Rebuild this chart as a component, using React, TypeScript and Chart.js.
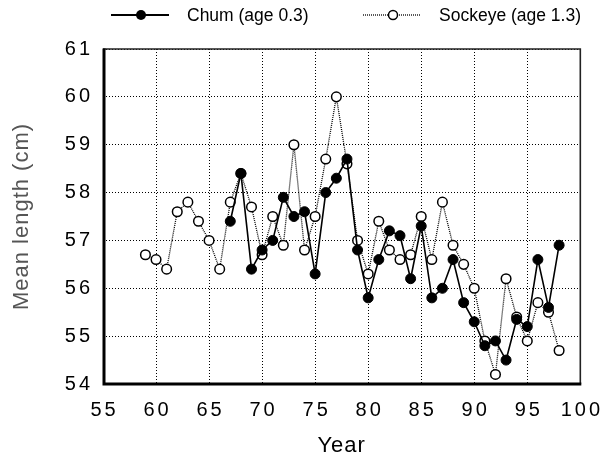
import React, { useEffect, useRef } from "react";
import { Chart, registerables } from "chart.js";

Chart.register(...registerables);

// ---- data ----
const sockeyeYears = [59, 60, 61, 62, 63, 64, 65, 66, 67, 68, 69, 70, 71, 72, 73, 74, 75, 76, 77, 78, 79, 80, 81, 82, 83, 84, 85, 86, 87, 88, 89, 90, 91, 92, 93, 94, 95, 96, 97, 98];
const sockeyeLength = [56.7, 56.6, 56.4, 57.6, 57.8, 57.4, 57.0, 56.4, 57.8, 58.4, 57.7, 56.7, 57.5, 56.9, 59.0, 56.8, 57.5, 58.7, 60.0, 58.6, 57.0, 56.3, 57.4, 56.8, 56.6, 56.7, 57.5, 56.6, 57.8, 56.9, 56.5, 56.0, 54.9, 54.2, 56.2, 55.4, 54.9, 55.7, 55.5, 54.7];

const chumYears = [67, 68, 69, 70, 71, 72, 73, 74, 75, 76, 77, 78, 79, 80, 81, 82, 83, 84, 85, 86, 87, 88, 89, 90, 91, 92, 93, 94, 95, 96, 97, 98];
const chumLength = [57.4, 58.4, 56.4, 56.8, 57.0, 57.9, 57.5, 57.6, 56.3, 58.0, 58.3, 58.7, 56.8, 55.8, 56.6, 57.2, 57.1, 56.2, 57.3, 55.8, 56.0, 56.6, 55.7, 55.3, 54.8, 54.9, 54.5, 55.35, 55.2, 56.6, 55.6, 56.9];

const seriesNames = ["Chum (age 0.3)", "Sockeye (age 1.3)"];
const xAxisTitle = "Year";
const yAxisTitle = "Mean length (cm)";
const xMin = 55;
const xMax = 100;
const xStep = 5;
const yMin = 54;
const yMax = 61;
const yStep = 1;

const FONT = "'Liberation Sans', Arial, Helvetica, sans-serif";

const toPoints = (xs: number[], ys: number[]) => xs.map((x, i) => ({ x, y: ys[i] }));

const decorPlugin = {
  id: "decor",
  beforeDraw(chart: any) {
    chart.ctx.letterSpacing = "1px";
  },
  beforeDatasetsDraw(chart: any) {
    const { ctx, chartArea: a } = chart;
    ctx.save();
    ctx.setLineDash([]);
    // thin top & right frame
    ctx.strokeStyle = "#222";
    ctx.lineWidth = 1.6;
    ctx.beginPath();
    ctx.moveTo(a.left, a.top);
    ctx.lineTo(a.right, a.top);
    ctx.lineTo(a.right, a.bottom);
    ctx.stroke();
    // heavy left & bottom axes
    ctx.strokeStyle = "#000";
    ctx.lineWidth = 3;
    ctx.beginPath();
    ctx.moveTo(a.left + 1, a.top - 0.5);
    ctx.lineTo(a.left + 1, a.bottom);
    ctx.lineTo(a.right + 1, a.bottom);
    ctx.stroke();
    ctx.restore();
  },
  afterDatasetsDraw(chart: any) {
    chart.ctx.letterSpacing = "3px";
  },
  afterDraw(chart: any) {
    const ctx = chart.ctx;
    ctx.save();
    ctx.letterSpacing = "0px";
    const y = 15;
    // chum legend
    ctx.setLineDash([]);
    ctx.strokeStyle = "#000";
    ctx.lineWidth = 2;
    ctx.beginPath();
    ctx.moveTo(111, y);
    ctx.lineTo(169, y);
    ctx.stroke();
    ctx.fillStyle = "#000";
    ctx.beginPath();
    ctx.arc(141, y, 5, 0, Math.PI * 2);
    ctx.fill();
    // sockeye legend
    ctx.lineWidth = 1.3;
    ctx.setLineDash([1, 1]);
    ctx.beginPath();
    ctx.moveTo(363, y);
    ctx.lineTo(421, y);
    ctx.stroke();
    ctx.setLineDash([]);
    ctx.fillStyle = "#fff";
    ctx.lineWidth = 1.5;
    ctx.beginPath();
    ctx.arc(393, y, 4.5, 0, Math.PI * 2);
    ctx.fill();
    ctx.stroke();
    // texts
    ctx.fillStyle = "#000";
    ctx.font = `17.5px ${FONT}`;
    ctx.textBaseline = "middle";
    ctx.textAlign = "left";
    ctx.fillText(seriesNames[0], 187, 16);
    ctx.fillText(seriesNames[1], 439, 16);
    ctx.restore();
  },
};

export default function App() {
  const canvasRef = useRef<HTMLCanvasElement | null>(null);

  useEffect(() => {
    document.body.style.margin = "0";
    const canvas = canvasRef.current;
    if (!canvas) return;
    const chart = new Chart(canvas, {
      type: "line",
      data: {
        datasets: [
          {
            label: seriesNames[0],
            data: toPoints(chumYears, chumLength),
            borderColor: "#000",
            backgroundColor: "#000",
            borderWidth: 1.6,
            pointRadius: 5,
            pointBorderWidth: 1,
            pointBorderColor: "#000",
            pointBackgroundColor: "#000",
            tension: 0,
            fill: false,
          },
          {
            label: seriesNames[1],
            data: toPoints(sockeyeYears, sockeyeLength),
            borderColor: "#000",
            backgroundColor: "#fff",
            borderWidth: 1.3,
            borderDash: [1, 1],
            pointRadius: 4.8,
            pointBorderWidth: 1.5,
            pointBorderColor: "#000",
            pointBackgroundColor: "#fff",
            tension: 0,
            fill: false,
          },
        ],
      },
      options: {
        animation: false,
        responsive: false,
        devicePixelRatio: 1,
        layout: { padding: { top: 49, right: 24, left: 0, bottom: 0 } },
        plugins: {
          legend: { display: false },
          tooltip: { enabled: false },
        },
        scales: {
          x: {
            type: "linear",
            min: xMin,
            max: xMax,
            afterFit: (s: any) => {
              s.height = 75;
            },
            ticks: {
              stepSize: xStep,
              color: "#000",
              font: { family: FONT, size: 20 },
              padding: 14,
              labelOffset: 1.5,
              maxRotation: 0,
              autoSkip: false,
              z: 1,
            },
            grid: { color: "#000", lineWidth: 1, drawTicks: false },
            border: { display: false, dash: [1, 2] },
            title: {
              display: true,
              text: xAxisTitle,
              color: "#000",
              font: { family: FONT, size: 22, lineHeight: 1.2 },
              padding: 0,
            },
          },
          y: {
            type: "linear",
            min: yMin,
            max: yMax,
            afterFit: (s: any) => {
              s.width = 103;
            },
            ticks: {
              stepSize: yStep,
              color: "#000",
              font: { family: FONT, size: 20 },
              padding: 10,
              z: 1,
            },
            grid: { color: "#000", lineWidth: 1, drawTicks: false },
            border: { display: false, dash: [1, 2] },
            title: {
              display: true,
              text: yAxisTitle,
              color: "#555",
              font: { family: FONT, size: 22, lineHeight: 1.2 },
              padding: { top: 9, bottom: 0 },
            },
          },
        },
      },
      plugins: [decorPlugin],
    } as any);
    return () => chart.destroy();
  }, []);

  return (
    <div style={{ width: 611, height: 459 }}>
      <canvas ref={canvasRef} width={611} height={459} style={{ display: "block" }} />
    </div>
  );
}
